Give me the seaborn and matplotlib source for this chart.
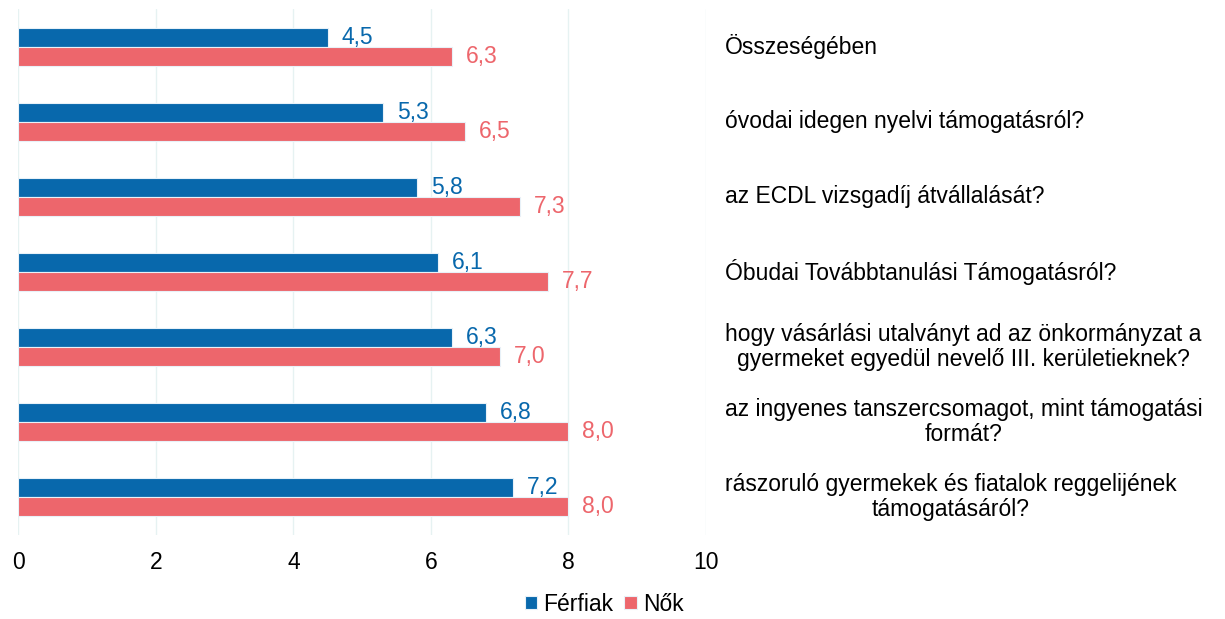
import matplotlib
matplotlib.use("Agg")
import matplotlib.pyplot as plt
import seaborn as sns
import pandas as pd

# data
categories = [
    "Összeségében",
    "óvodai idegen nyelvi támogatásról?",
    "az ECDL vizsgadíj átvállalását?",
    "Óbudai Továbbtanulási Támogatásról?",
    "hogy vásárlási utalványt ad az önkormányzat a\ngyermeket egyedül nevelő III. kerületieknek?",
    "az ingyenes tanszercsomagot, mint támogatási\nformát?",
    "rászoruló gyermekek és fiatalok reggelijének\ntámogatásáról?",
]
ferfiak = [4.5, 5.3, 5.8, 6.1, 6.3, 6.8, 7.2]
nok = [6.3, 6.5, 7.3, 7.7, 7.0, 8.0, 8.0]
groups = ["Férfiak", "Nők"]
colors = ["#0868AC", "#ED666C"]
xticks = [0, 2, 4, 6, 8, 10]

df = pd.DataFrame({
    "kat": categories * 2,
    "ertek": ferfiak + nok,
    "nem": [groups[0]] * len(categories) + [groups[1]] * len(categories),
})

sns.set_theme(style="white")
plt.rcParams["font.family"] = ["Liberation Sans", "DejaVu Sans"]
fs = 16.5

fig = plt.figure(figsize=(12.25, 6.19), dpi=100)
ax = fig.add_axes([0.0151, 0.1365, 0.5612, 0.8482])

sns.barplot(data=df, y="kat", x="ertek", hue="nem", orient="h",
            palette=colors, saturation=1, width=0.5, edgecolor="#e8f1f8",
            linewidth=0.8, ax=ax, legend=True)

# value labels with decimal comma
for cont, col in zip(ax.containers, colors):
    ax.bar_label(cont, labels=[f"{v:.1f}".replace(".", ",") for v in cont.datavalues],
                 padding=10, color=col, fontsize=fs)

ax.set_xlim(0, 10)
ax.set_xticks(xticks)
ax.tick_params(axis="x", labelsize=fs, length=0, pad=12, colors="#000000")
ax.set_yticks(range(len(categories)))
ax.set_yticklabels([])
ax.tick_params(axis="y", length=0)
ax.set_ylim(len(categories) - 0.5, -0.5)
ax.grid(axis="x", color="#e6f2f2", linewidth=1)
ax.set_axisbelow(True)
sns.despine(ax=ax, left=True, bottom=True)
ax.set_xlabel("")
ax.set_ylabel("")

# category labels to the right of the plot
for i, lab in enumerate(categories):
    ax.text(1.0276, i, lab, transform=ax.get_yaxis_transform(),
            ha="left", va="center", multialignment="center",
            fontsize=fs, color="#000000", linespacing=1.15)

handles, labels = ax.get_legend_handles_labels()
ax.legend_.remove()
fig.legend(handles, labels, loc="center", bbox_to_anchor=(0.493, 0.024),
           ncol=2, frameon=False, fontsize=fs, handlelength=0.55,
           handleheight=0.55, handletextpad=0.25, columnspacing=0.5,
           labelcolor="#000000", borderpad=0.1)

fig.savefig("out.png", dpi=100, facecolor="white")
